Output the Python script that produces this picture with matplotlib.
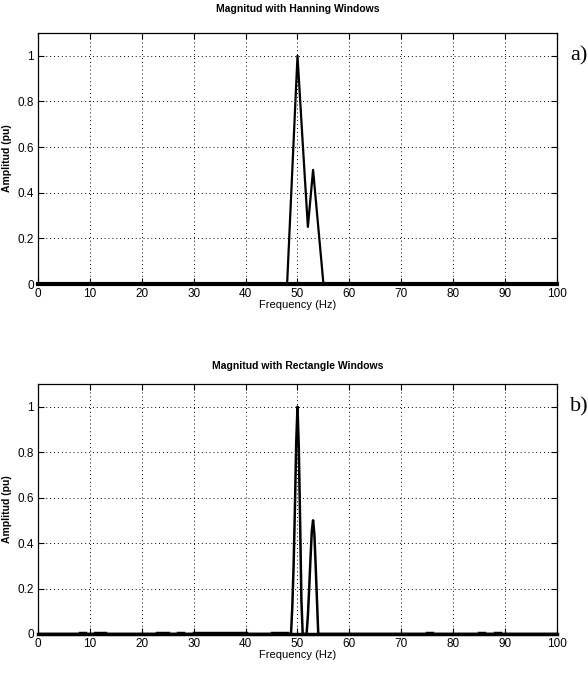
"""
Magnitude spectra: Hanning vs rectangle window (MATLAB-style look)
"""

import matplotlib
matplotlib.use("Agg")
import matplotlib.pyplot as plt

# ── Data ───────────────────────────────────────────────────────────────────────
FREQ_MAX = 100

# a) Hanning window: breakpoints of the spectrum line
hann_freq = [0, 48, 49, 50, 51, 52, 53, 54, 55, 100]
hann_amp  = [0, 0, 0.5, 1.0, 0.62, 0.25, 0.5, 0.25, 0, 0]

# b) Rectangle window: main lobes (0.25 Hz resolution)
rect_freq = [0, 48.75, 49.0, 49.25, 49.5, 49.75, 50.0, 50.25, 50.5, 50.75, 51.0,
             51.75, 52.0, 52.25, 52.5, 52.75, 53.0, 53.25, 53.5, 53.75, 54.0, 100]
rect_amp  = [0, 0, 0.12, 0.3, 0.55, 0.84, 1.0, 0.82, 0.5, 0.15, 0,
             0, 0.08, 0.2, 0.33, 0.45, 0.5, 0.44, 0.3, 0.15, 0, 0]

# small leakage bumps (start Hz, end Hz)
leak_start = [8, 11, 23, 27, 30, 45, 75, 85, 88]
leak_end   = [9, 13, 25, 28, 40, 48, 76, 86, 89]
leak_level = 0.006

x_ticks = list(range(0, 101, 10))
y_ticks = [0, 0.2, 0.4, 0.6, 0.8, 1]
y_tick_labels = ["0", "0.2", "0.4", "0.6", "0.8", "1"]

# ── Style ──────────────────────────────────────────────────────────────────────
plt.rcParams["font.family"] = ["Liberation Sans", "DejaVu Sans"]

fig = plt.figure(figsize=(5.88, 6.73), dpi=100, facecolor="white")
ax_a = fig.add_axes([0.0646, 0.578, 0.8827, 0.373])
ax_b = fig.add_axes([0.0646, 0.058, 0.8827, 0.3715])


def style_ax(ax, title, tag, title_pad):
    ax.set_xlim(0, FREQ_MAX)
    ax.set_ylim(0, 1.1)
    ax.set_xticks(x_ticks)
    ax.set_yticks(y_ticks)
    ax.set_yticklabels(y_tick_labels)
    ax.tick_params(direction="in", length=4, width=0.8, top=True, right=True,
                   labelsize=8.5, pad=3, colors="black")
    ax.grid(True, linestyle=(0, (1, 3)), color="black", linewidth=0.7)
    for sp in ax.spines.values():
        sp.set_color("black")
        sp.set_linewidth(0.9)
    ax.set_title(title, fontsize=7.5, fontweight="bold", pad=title_pad)
    ax.set_xlabel("Frequency (Hz)", fontsize=8, labelpad=0)
    ax.set_ylabel("Amplitud (pu)", fontsize=7.5, fontweight="bold", labelpad=4)
    ax.text(1.025, 0.91, tag, transform=ax.transAxes, fontsize=16,
            family="Liberation Serif", ha="left", va="center")


# ── Chart a) ───────────────────────────────────────────────────────────────────
style_ax(ax_a, "Magnitud with Hanning Windows", "a)", 15)
ax_a.plot(hann_freq, hann_amp, color="black", linewidth=1.6, zorder=3)
ax_a.plot([0, FREQ_MAX], [0, 0], color="black", linewidth=3, zorder=3, clip_on=False)

# ── Chart b) ───────────────────────────────────────────────────────────────────
style_ax(ax_b, "Magnitud with Rectangle Windows", "b)", 11)
ax_b.plot(rect_freq, rect_amp, color="black", linewidth=1.8, zorder=3)
ax_b.plot([0, FREQ_MAX], [0, 0], color="black", linewidth=2.5, zorder=3, clip_on=False)
for s, e in zip(leak_start, leak_end):
    ax_b.plot([s, e], [leak_level, leak_level], color="black", linewidth=2.5, zorder=3)

fig.savefig("out.png", dpi=100, facecolor="white")
